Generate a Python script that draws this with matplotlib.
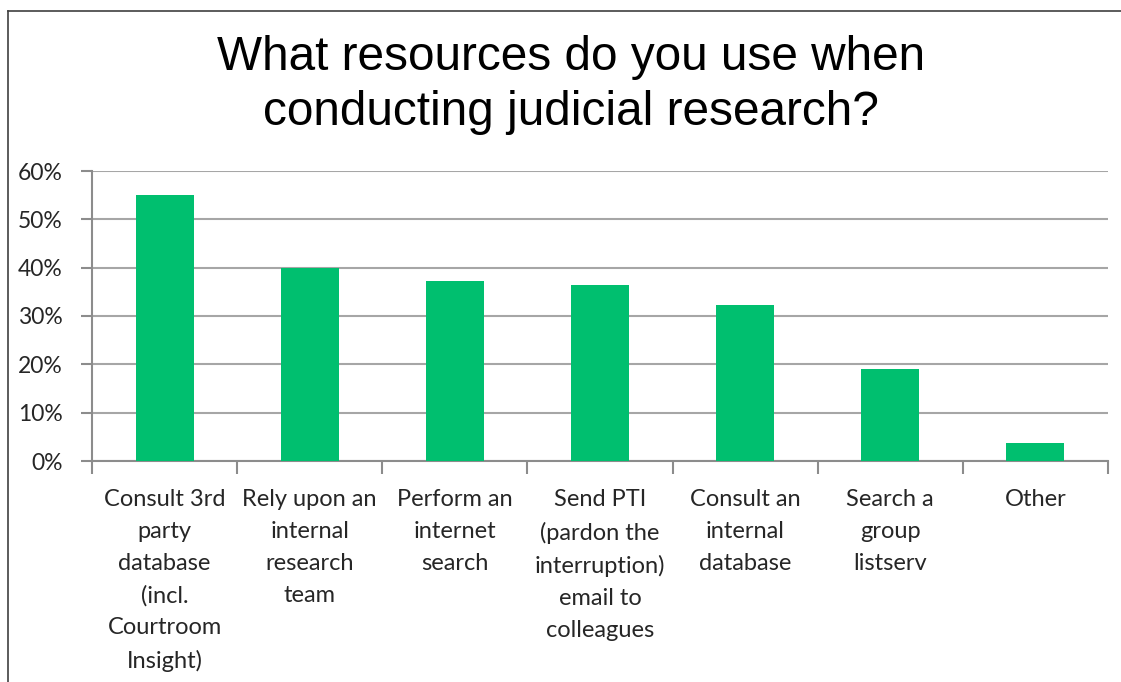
import matplotlib
matplotlib.use("Agg")
import matplotlib.pyplot as plt
import numpy as np
from matplotlib.ticker import PercentFormatter, FixedLocator
from matplotlib.lines import Line2D

categories = [
    "Consult 3rd\nparty\ndatabase\n(incl.\nCourtroom\nInsight)",
    "Rely upon an\ninternal\nresearch\nteam",
    "Perform an\ninternet\nsearch",
    "Send PTI\n(pardon the\ninterruption)\nemail to\ncolleagues",
    "Consult an\ninternal\ndatabase",
    "Search a\ngroup\nlistserv",
    "Other",
]
values = [55.1, 40.0, 37.3, 36.4, 32.3, 19.0, 3.7]
yticks = [0, 10, 20, 30, 40, 50, 60]
title = "What resources do you use when\nconducting judicial research?"

W, H = 1121, 682
fig = plt.figure(figsize=(W / 100, H / 100), dpi=100)
ax = fig.add_axes([92 / W, (H - 461) / H, (1108 - 92) / W, (461 - 171) / H])

grid_c = "#a6a6a6"
spine_c = "#8c8c8c"
lab_font = "Lato"

x = np.arange(len(categories))
ax.bar(x, values, width=0.4, color="#00BF6F", zorder=3)
ax.set_xlim(-0.5, len(categories) - 0.5)
ax.set_ylim(0, 60)
ax.set_yticks(yticks)
ax.yaxis.set_major_formatter(PercentFormatter(decimals=0))
ax.grid(axis="y", color=grid_c, linewidth=1.5, zorder=0)
ax.set_xticks(x)
ax.set_xticklabels(categories, fontfamily=lab_font, fontsize=17, linespacing=1.645)
ax.xaxis.set_minor_locator(FixedLocator(np.arange(-0.5, len(categories), 1.0)))
ax.tick_params(axis="x", which="major", length=0, pad=20, colors="#262626")
ax.tick_params(axis="x", which="minor", length=9, width=1.5, color=spine_c)
ax.tick_params(axis="y", length=8, width=1.5, color=spine_c, pad=13, labelsize=16.5,
               labelcolor="#262626")
for lab in ax.get_yticklabels():
    lab.set_fontfamily(lab_font)
for s in ["top", "right"]:
    ax.spines[s].set_visible(False)
for s in ["left", "bottom"]:
    ax.spines[s].set_color(spine_c)
    ax.spines[s].set_linewidth(1.5)

fig.text(571 / W, 1 - 85 / H, title, ha="center", va="center", fontsize=34.4,
         fontfamily="Liberation Sans", linespacing=1.3, color="black")

# outer frame (top and left visible)
fig.add_artist(Line2D([8 / W, 1.0], [1 - 11 / H, 1 - 11 / H], transform=fig.transFigure,
                      color="#404040", linewidth=1.2))
fig.add_artist(Line2D([8 / W, 8 / W], [0, 1 - 11 / H], transform=fig.transFigure,
                      color="#404040", linewidth=1.2))

fig.savefig("out.png", dpi=100)
